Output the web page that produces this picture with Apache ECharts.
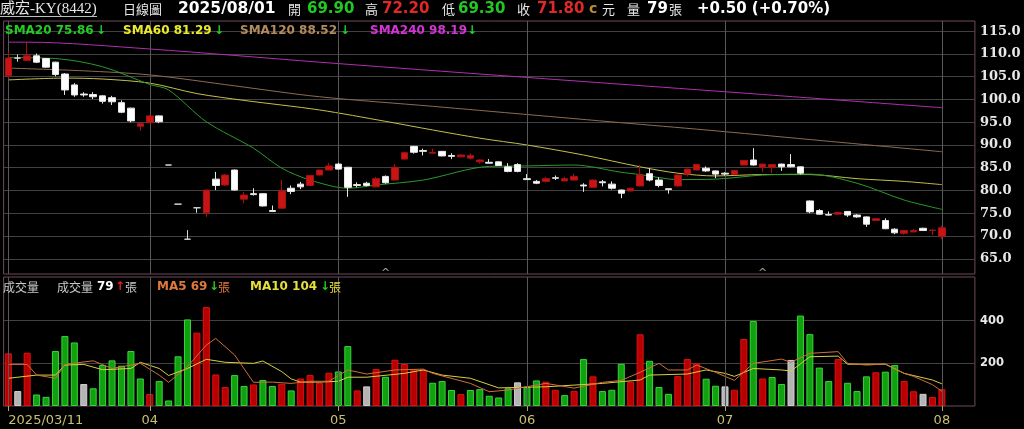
<!DOCTYPE html>
<html><head><meta charset="utf-8">
<script src="https://cdn.jsdelivr.net/npm/echarts@6/dist/echarts.min.js"></script>
<style>html,body{margin:0;padding:0;background:#000;}#c{width:1024px;height:429px;}</style>
</head><body><div id="c"></div>
<script>
// ---------- DATA ----------
const dates = [
'03/11','03/12','03/13','03/14','03/17','03/18','03/19','03/20','03/21','03/24','03/25','03/26','03/27','03/28','03/31',
'04/01','04/02','04/07','04/08','04/09','04/10','04/11','04/14','04/15','04/16','04/17','04/18','04/21','04/22','04/23','04/24','04/25','04/28','04/29','04/30',
'05/02','05/05','05/06','05/07','05/08','05/09','05/12','05/13','05/14','05/15','05/16','05/19','05/20','05/21','05/22','05/23','05/26','05/27','05/28','05/29',
'06/02','06/03','06/04','06/05','06/06','06/09','06/10','06/11','06/12','06/13','06/16','06/17','06/18','06/19','06/20','06/23','06/24','06/25','06/26','06/27','06/30',
'07/01','07/02','07/03','07/04','07/07','07/08','07/09','07/10','07/11','07/14','07/15','07/16','07/17','07/18','07/21','07/22','07/23','07/24','07/25','07/28','07/29','07/30','07/31',
'08/01'];
const futureSlots = ['', '', ''];
const tickIdx = [0, 15, 35, 55, 76, 99];
const tickLabels = ['2025/03/11', '04', '05', '06', '07', '08'];

const opens = [105.2,109.1,108.6,109.6,109.0,108.2,105.6,103.2,101.2,101.1,100.8,100.4,99.3,98.1,94.1,94.9,96.4,85.6,77.0,69.3,
76.2,75.1,82.5,81.2,84.5,78.1,79.3,79.3,75.6,76.1,80.5,81.4,81.1,83.4,84.5,85.8,85.1,81.3,81.6,80.8,
83.1,82.3,86.9,89.7,88.8,88.2,88.6,87.7,87.4,87.1,86.3,86.2,86.3,85.2,85.7,82.6,82.0,82.0,82.8,82.1,
82.3,81.2,80.7,81.9,81.4,80.1,79.9,81.0,83.7,82.3,80.4,81.0,83.6,84.5,84.9,84.3,83.8,83.5,85.6,86.7,
85.1,85.1,85.8,85.7,85.2,77.7,75.6,74.7,74.8,75.4,74.6,74.2,73.4,73.4,71.5,70.6,70.9,71.7,71.2,69.9];
const closes = [109.1,109.1,109.6,108.2,107.1,105.5,102.1,101.0,101.0,100.6,99.6,99.5,97.2,95.3,94.7,96.4,95.1,85.6,77.0,69.3,
76.2,80.1,81.1,83.4,80.1,79.0,79.1,76.6,75.4,79.9,79.8,80.8,83.3,84.5,85.4,84.7,80.7,81.1,81.1,82.6,
81.7,85.1,88.3,88.4,88.6,88.4,87.6,87.5,87.8,87.7,86.7,86.0,85.5,84.2,84.2,82.4,81.6,82.6,82.7,82.6,
83.1,81.0,82.3,81.7,80.5,79.4,80.5,83.4,82.3,81.1,80.2,83.4,84.7,85.7,84.3,83.6,83.6,84.4,86.6,85.6,
85.8,85.7,85.2,85.2,83.8,75.3,74.8,74.6,75.2,74.6,74.2,72.6,73.8,71.6,70.7,71.2,71.2,71.2,71.3,71.8];
const lows = [104.7,108.3,108.5,108.0,107.0,105.1,101.0,100.6,100.6,100.1,99.1,98.8,97.0,95.0,93.1,94.8,94.8,85.6,77.0,69.3,
75.1,74.2,80.1,81.0,80.0,77.2,78.9,76.5,75.4,76.0,79.2,80.3,81.0,83.3,84.4,84.6,78.6,80.7,80.9,80.7,
81.5,82.2,86.8,88.1,87.7,88.1,87.5,86.9,87.3,86.8,85.9,86.0,85.4,84.0,84.0,82.3,81.4,81.8,82.3,82.0,
82.2,79.7,80.6,80.9,80.2,78.3,79.8,80.9,82.0,80.7,79.3,80.9,83.1,84.4,84.1,82.7,83.3,83.4,85.5,85.5,
84.0,83.8,84.3,85.1,83.5,75.0,74.7,74.5,74.7,74.2,74.0,72.0,73.3,71.5,70.4,70.3,70.8,71.1,70.2,69.3];
const highs = [110.5,109.9,112.7,110.1,109.1,108.3,105.8,103.6,101.6,101.6,100.9,100.8,99.8,98.2,94.9,96.6,96.5,85.6,77.0,71.3,
76.2,80.2,84.1,83.6,84.6,79.7,80.5,79.4,76.7,82.3,81.1,81.9,83.4,84.6,86.1,86.1,85.2,81.8,81.9,83.0,
83.3,85.8,88.5,89.8,89.2,89.2,88.7,88.2,87.9,88.2,86.8,86.9,86.4,86.0,86.0,83.6,82.3,83.0,83.3,83.0,
83.7,81.6,82.4,82.3,82.0,80.2,80.6,85.6,84.9,82.9,80.4,83.5,84.8,85.8,85.3,84.4,84.0,84.5,86.7,89.3,
85.9,85.8,85.9,88.0,85.3,77.8,75.9,75.4,75.3,75.5,74.8,74.3,73.9,73.9,71.7,71.3,71.6,71.8,71.5,72.2];

const volumes = [247,70,250,54,43,258,328,298,103,83,192,214,189,258,129,56,117,26,233,406,
344,464,148,89,145,94,101,122,94,104,73,129,145,109,156,162,281,73,92,173,
137,217,197,173,170,109,117,75,56,75,79,48,40,83,111,90,120,114,76,51,
71,220,139,70,76,198,114,336,212,89,57,140,220,200,128,95,92,76,314,399,
129,136,103,216,424,337,180,117,220,109,70,139,158,161,192,117,69,57,42,79];
// u = up (red), d = down (green), n = unchanged (grey)
const volDir = ['u','n','u','d','d','d','d','d','n','d','d','d','d','d','d','u','d','d','d','d',
'u','u','u','u','d','d','u','d','d','u','d','u','u','u','u','d','d','u','n','u',
'd','u','u','u','u','d','d','d','u','d','d','d','d','d','n','d','d','u','u','d',
'u','d','u','d','d','d','u','u','d','d','d','u','u','u','d','d','n','u','u','d',
'u','d','d','n','d','d','d','d','u','d','d','d','u','d','d','u','u','n','u','u'];

// moving averages: [dayIndex, value]
const sma20 = [[0,109.2],[5,109.0],[10,107.2],[15,103.3],[17,102.1],[21,95.1],[26,89.3],[29,84.9],[32,82.3],[36,80.5],[39,81.2],[44,82.3],[51,85.3],[55,85.4],[60,85.6],[65,84.0],[67,83.5],[71,82.4],[75,82.5],[80,83.4],[85,83.6],[90,81.6],[95,77.9],[99,75.86]];
const sma60 = [[0,104.3],[6,104.7],[10,104.5],[15,103.6],[20,101.3],[25,99.8],[33,97.7],[40,95.2],[45,93.3],[50,91.5],[55,90.0],[61,87.8],[67,85.2],[71,83.8],[75,83.2],[80,83.5],[85,83.5],[90,82.6],[95,82.0],[99,81.29]];
const sma120 = [[0,106.9],[8,106.3],[15,105.4],[24,103.0],[33,100.6],[45,98.5],[55,96.7],[65,94.9],[74,93.3],[85,91.2],[99,88.52]];
const sma240 = [[0,112.6],[2,112.6],[15,111.1],[33,108.2],[50,105.6],[66,103.2],[80,101.1],[99,98.19]];
const volMa5 = [[0,195],[2,195],[3,145],[5,130],[6,195],[9,212],[11,176],[13,192],[14,200],[16,145],[17,111],[19,185],[21,286],[22,317],[24,239],[26,111],[28,112],[30,106],[32,116],[34,116],[36,169],[38,150],[41,169],[44,173],[45,153],[49,106],[51,67],[53,75],[57,106],[60,84],[63,111],[65,120],[67,158],[69,200],[70,169],[72,169],[73,192],[75,158],[77,120],[79,200],[82,220],[83,205],[85,247],[88,255],[89,200],[91,192],[93,197],[95,153],[96,139],[98,100],[99,69]];
const volMa10 = [[0,130],[3,145],[5,145],[6,192],[8,195],[10,170],[13,176],[14,205],[16,176],[17,143],[19,176],[21,219],[23,205],[26,200],[27,211],[29,161],[30,127],[31,112],[33,112],[35,116],[36,135],[38,135],[42,153],[44,169],[46,145],[49,130],[52,85],[57,90],[60,98],[63,106],[67,122],[68,145],[72,150],[74,169],[76,153],[77,139],[79,176],[82,169],[83,164],[85,231],[88,234],[89,196],[93,196],[95,153],[98,122],[99,104]];
const eventIdx = [40, 80];
const priceTicks = [65,70,75,80,85,90,95,100,105,110,115];
const volTicks = [200, 400];

// ---------- CHART ----------
const SANS = "'DejaVu Sans', Verdana, sans-serif";
const SERIF = "'DejaVu Serif', 'Liberation Serif', serif";
const CJK = "'Noto Sans CJK TC', 'Noto Sans CJK SC', sans-serif";
const RED = '#c81414', GREEN_TXT = '#22c822';
const n = dates.length;
const cats = dates.concat(futureSlots);
const candles = opens.map((o, i) => {
  const item = {value: [o, closes[i], lows[i], highs[i]]};
  if (o === closes[i]) item.itemStyle = {color: '#d8d8d8', color0: '#d8d8d8', borderColor: '#d8d8d8', borderColor0: '#d8d8d8'};
  return item;
});
const volColors = {u: ['#b80000', '#e01010'], d: ['#10a010', '#3ad43a'], n: ['#b4b4b4', '#d0d0d0']};
const volData = volumes.map((v, i) => ({value: v, itemStyle: {color: volColors[volDir[i]][0], borderColor: volColors[volDir[i]][1], borderWidth: 1}}));
const last = n - 1;
const chg = closes[last] - closes[last - 1];
const pct = chg / closes[last - 1] * 100;
const sgn = v => (v >= 0 ? '+' : '') + v.toFixed(2);
const labelMap = {}; tickIdx.forEach((k, j) => labelMap[k] = tickLabels[j]);
const isTick = idx => labelMap[idx] !== undefined;

function T(x, y, text, fill, size, bold, family) {
  return {type: 'text', x: x, y: y, silent: true, z: 100,
    style: {text: text, fill: fill, fontSize: size, fontWeight: bold ? 'bold' : 'normal', fontFamily: family || SANS, verticalAlign: 'middle', align: 'left'}};
}
const lastV = a => a[a.length - 1][1];
const graphics = [
  T(0, 9, '威宏-KY(8442)', '#e6e6e6', 15, false, "'Liberation Serif', 'Noto Sans CJK TC', serif"),
  {type: 'line', silent: true, shape: {x1: 0, y1: 16.5, x2: 97, y2: 16.5}, style: {stroke: '#bdbdbd', lineWidth: 1}},
  T(123, 9, '日線圖', '#e6e6e6', 13, false, CJK),
  T(178, 9, '2025/08/01', '#ffffff', 15.5, true),
  T(288, 9, '開', '#e6e6e6', 13, false, CJK),
  T(307, 9, opens[last].toFixed(2), GREEN_TXT, 15, true),
  T(365, 9, '高', '#e6e6e6', 13, false, CJK),
  T(382, 9, highs[last].toFixed(2), '#e02828', 15, true),
  T(442, 9, '低', '#e6e6e6', 13, false, CJK),
  T(458, 9, lows[last].toFixed(2), GREEN_TXT, 15, true),
  T(517, 9, '收', '#e6e6e6', 13, false, CJK),
  T(537, 9, closes[last].toFixed(2), '#e02828', 15, true),
  T(589, 9, 'c', '#b8893e', 14, true),
  T(602, 9, '元', '#e6e6e6', 13, false, CJK),
  T(627, 9, '量', '#e6e6e6', 13, false, CJK),
  T(647, 9, String(volumes[last]), '#ffffff', 15, true),
  T(669, 9, '張', '#e6e6e6', 13, false, CJK),
  T(697, 9, sgn(chg) + ' (' + sgn(pct) + '%)', '#ffffff', 15, true),
  // price legend
  T(5, 31, 'SMA20 ' + lastV(sma20).toFixed(2), '#22cc22', 12, true),
  T(96, 31, '↓', '#22cc22', 12, true),
  T(123, 31, 'SMA60 ' + lastV(sma60).toFixed(2), '#eaea2a', 12, true),
  T(214, 31, '↓', '#22cc22', 12, true),
  T(240, 31, 'SMA120 ' + lastV(sma120).toFixed(2), '#b48a5c', 12, true),
  T(340, 31, '↓', '#22cc22', 12, true),
  T(370, 31, 'SMA240 ' + lastV(sma240).toFixed(2), '#d633d6', 12, true),
  T(467, 31, '↓', '#22cc22', 12, true),
  // volume legend
  T(3, 287, '成交量', '#c8c8c8', 12, false, CJK),
  T(57, 287, '成交量', '#c8c8c8', 12, false, CJK),
  T(97, 287, String(volumes[last]), '#ffffff', 12, true),
  T(115, 287, '↑', '#e02020', 12, true),
  T(125, 287, '張', '#c8c8c8', 12, false, CJK),
  T(157, 287, 'MA5 ' + Math.round(lastV(volMa5)), '#e0783a', 12, true),
  T(209, 287, '↓', '#22cc22', 12, true),
  T(218, 287, '張', '#e0783a', 12, false, CJK),
  T(250, 287, 'MA10 ' + Math.round(lastV(volMa10)), '#e6de3c', 12, true),
  T(320, 287, '↓', '#22cc22', 12, true),
  T(329, 287, '張', '#e6de3c', 12, false, CJK)
];

const vLines = tickIdx.map(k => ({xAxis: k}));
const gridBorder = '#6e4a5c';
const option = {
  backgroundColor: '#000',
  animation: false,
  grid: [
    {left: 3.6, width: 971.3, top: 21, height: 253, show: true, borderColor: gridBorder, borderWidth: 1},
    {left: 3.6, width: 971.3, top: 277, height: 129, show: true, borderColor: gridBorder, borderWidth: 1}
  ],
  xAxis: [
    {gridIndex: 0, type: 'category', data: cats, boundaryGap: true, axisLine: {show: false}, axisTick: {show: false}, axisLabel: {show: false}, splitLine: {show: false}},
    {gridIndex: 1, type: 'category', data: cats, boundaryGap: true, axisLine: {show: false},
      axisTick: {show: true, alignWithLabel: true, length: 5, interval: isTick, lineStyle: {color: '#b0a860'}},
      axisLabel: {show: true, interval: isTick, formatter: (v, idx) => labelMap[idx] || '', color: '#c8c070', fontSize: 13, fontFamily: SANS, margin: 8, alignMinLabel: 'left'},
      splitLine: {show: false}}
  ],
  yAxis: [
    {gridIndex: 0, type: 'value', position: 'right', min: 61.65, max: 117.25,
      axisLine: {show: false}, axisTick: {show: false, customValues: priceTicks},
      axisLabel: {customValues: priceTicks, formatter: v => v.toFixed(1), color: '#e8e8e8', fontSize: 13, fontWeight: 'bold', fontFamily: SERIF, margin: 5},
      splitLine: {show: true, lineStyle: {color: '#424242', width: 1}}},
    {gridIndex: 1, type: 'value', position: 'right', min: 0, max: 605,
      axisLine: {show: false}, axisTick: {show: false, customValues: volTicks},
      axisLabel: {customValues: volTicks, color: '#e8e8e8', fontSize: 11.5, fontWeight: 'bold', fontFamily: SANS, margin: 5},
      splitLine: {show: true, lineStyle: {color: '#424242', width: 1}}}
  ],
  series: [
    {type: 'line', xAxisIndex: 0, yAxisIndex: 0, data: sma240, showSymbol: false, smooth: 0.3, z: 2, lineStyle: {color: '#b22eb2', width: 1}, silent: true,
      markLine: {silent: true, symbol: 'none', label: {show: false}, lineStyle: {color: '#585858', type: 'solid', width: 1}, data: vLines}},
    {type: 'line', xAxisIndex: 0, yAxisIndex: 0, data: sma120, showSymbol: false, smooth: 0.3, z: 2, lineStyle: {color: '#8c6c52', width: 1}, silent: true},
    {type: 'line', xAxisIndex: 0, yAxisIndex: 0, data: sma60, showSymbol: false, smooth: 0.3, z: 2, lineStyle: {color: '#c4c04c', width: 1}, silent: true},
    {type: 'line', xAxisIndex: 0, yAxisIndex: 0, data: sma20, showSymbol: false, smooth: 0.3, z: 2, lineStyle: {color: '#2a9a2a', width: 1}, silent: true},
    {type: 'candlestick', xAxisIndex: 0, yAxisIndex: 0, data: candles, barWidth: 7, z: 5,
      itemStyle: {color: RED, color0: '#ffffff', borderColor: '#a81010', borderColor0: '#e8e8e8', borderWidth: 1}},
    {type: 'scatter', xAxisIndex: 0, yAxisIndex: 0, data: eventIdx.map(k => [k, 61.65]), symbol: 'circle', symbolSize: 2,
      itemStyle: {color: 'transparent'}, z: 6,
      label: {show: true, formatter: '^', position: 'top', distance: -6, color: '#d0d0b0', fontSize: 11, fontFamily: SANS}},
    {type: 'bar', xAxisIndex: 1, yAxisIndex: 1, data: volData, barWidth: 7, z: 3,
      markLine: {silent: true, symbol: 'none', label: {show: false}, lineStyle: {color: '#585858', type: 'solid', width: 1}, data: vLines}},
    {type: 'line', xAxisIndex: 1, yAxisIndex: 1, data: volMa10, showSymbol: false, z: 4, lineStyle: {color: '#d6d040', width: 1}, silent: true},
    {type: 'line', xAxisIndex: 1, yAxisIndex: 1, data: volMa5, showSymbol: false, z: 4, lineStyle: {color: '#d0703a', width: 1}, silent: true}
  ],
  graphic: graphics
};
const chart = echarts.init(document.getElementById('c'), null, {renderer: 'canvas'});
chart.setOption(option);
</script>
</body></html>
